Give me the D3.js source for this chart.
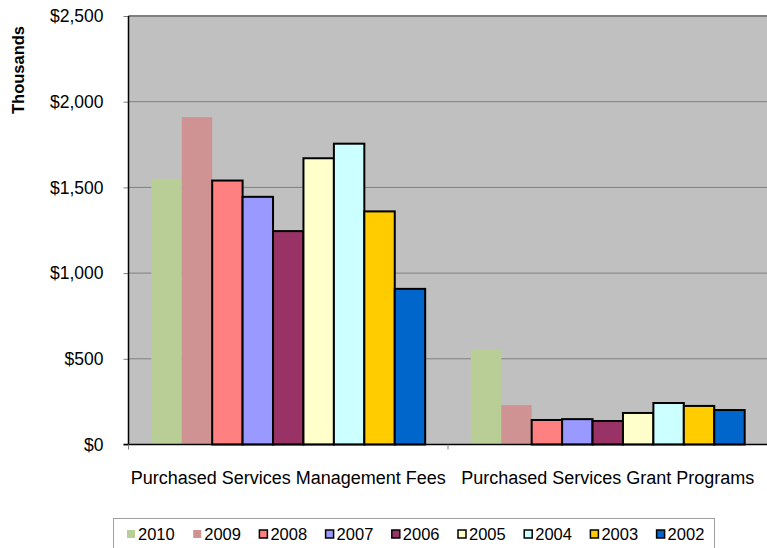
<!DOCTYPE html>
<html>
<head>
<meta charset="utf-8">
<script src="https://cdn.jsdelivr.net/npm/d3@7"></script>
<style>
  body { margin: 0; background: #fff; }
  text { font-family: "Liberation Sans", Arial, sans-serif; }
</style>
</head>
<body>
<div id="chart"></div>
<script>
// chart data
const categories = ["Purchased Services Management Fees", "Purchased Services Grant Programs"];
const years = ["2010", "2009", "2008", "2007", "2006", "2005", "2004", "2003", "2002"];
const feesValues = [1550, 1910, 1540, 1445, 1245, 1670, 1755, 1360, 908];
const grantValues = [552, 230, 143, 148, 137, 184, 242, 225, 201];
const yTicks = [0, 500, 1000, 1500, 2000, 2500];
const colors = ["#B9CE96", "#D09393", "#FF8080", "#9999FF", "#993366", "#FFFFCC", "#CCFFFF", "#FFCC00", "#0066CC"];
const outlined = [false, false, true, true, true, true, true, true, true];

const width = 767, height = 548;
const margin = { top: 16, right: 0, bottom: 103.5, left: 128.5 };

const svg = d3.select("#chart").append("svg")
    .attr("width", width)
    .attr("height", height);

const x0 = d3.scaleBand()
    .domain(categories)
    .range([margin.left, width + 0.5]);

const x1 = d3.scaleBand()
    .domain(years)
    .range([0, x0.bandwidth()])
    .paddingInner(0)
    .paddingOuter(0.75);

const y = d3.scaleLinear()
    .domain([0, 2500])
    .range([height - margin.bottom, margin.top]);

// plot background
svg.append("rect")
    .attr("x", margin.left)
    .attr("y", margin.top)
    .attr("width", width - margin.left + 1)
    .attr("height", y(0) - margin.top)
    .style("fill", "#C0C0C0");

// gridlines
svg.append("g")
    .selectAll("line")
    .data(yTicks.filter(d => d > 0))
    .enter().append("line")
    .attr("x1", margin.left)
    .attr("x2", width)
    .attr("y1", d => y(d))
    .attr("y2", d => y(d))
    .style("stroke", "#808080")
    .style("stroke-width", d => d === 2500 ? 2 : 1);

// bars
const rows = [feesValues, grantValues];
const group = svg.selectAll(".cat")
    .data(categories)
    .enter().append("g")
    .attr("class", "cat")
    .attr("transform", d => "translate(" + x0(d) + ",0)");

group.selectAll("rect")
    .data((d, i) => years.map((yr, j) => ({ year: yr, value: rows[i][j], idx: j })))
    .enter().append("rect")
    .attr("x", d => x1(d.year))
    .attr("y", d => y(d.value))
    .attr("width", x1.bandwidth())
    .attr("height", d => y(0) - y(d.value))
    .style("fill", d => colors[d.idx])
    .style("stroke", d => outlined[d.idx] ? "#000" : "none")
    .style("stroke-width", 2);

// y axis
const yAxis = d3.axisLeft(y)
    .tickValues(yTicks)
    .tickSize(5)
    .tickPadding(20)
    .tickFormat(d => "$" + d3.format(",")(d));

svg.append("g")
    .attr("transform", "translate(" + margin.left + ",0)")
    .call(yAxis)
    .call(g => g.select(".domain").remove())
    .call(g => g.selectAll("line").style("stroke", "#808080"))
    .call(g => g.selectAll("text")
        .style("font-size", "17.5px")
        .style("fill", "#000")
        .style("font-family", "'Liberation Sans', Arial, sans-serif"));

svg.append("line")
    .attr("x1", margin.left).attr("x2", margin.left)
    .attr("y1", margin.top).attr("y2", y(0))
    .style("stroke", "#000").style("stroke-width", 1.5);

// x axis line + category ticks
svg.append("line")
    .attr("x1", margin.left - 5).attr("x2", width)
    .attr("y1", y(0)).attr("y2", y(0))
    .style("stroke", "#000").style("stroke-width", 1.5);

svg.append("g")
    .selectAll("line")
    .data([margin.left, x0(categories[1])])
    .enter().append("line")
    .attr("x1", d => d).attr("x2", d => d)
    .attr("y1", y(0)).attr("y2", y(0) + 5)
    .style("stroke", "#808080");

svg.append("g")
    .selectAll("text")
    .data(categories)
    .enter().append("text")
    .attr("x", d => x0(d) + x0.bandwidth() / 2)
    .attr("y", 484)
    .attr("text-anchor", "middle")
    .style("font-size", "18px")
    .text(d => d);

// y title
svg.append("text")
    .attr("transform", "translate(23.5,70) rotate(-90)")
    .attr("text-anchor", "middle")
    .style("font-size", "16.5px")
    .style("font-weight", "bold")
    .text("Thousands");

// legend
svg.append("rect")
    .attr("x", 113.5)
    .attr("y", 518.5)
    .attr("width", 601)
    .attr("height", 50)
    .style("fill", "#fff")
    .style("stroke", "#A0A0A0")
    .style("stroke-width", 1);

const legend = svg.append("g")
    .selectAll("g")
    .data(years)
    .enter().append("g")
    .attr("transform", (d, i) => "translate(" + (127 + i * 66.2) + ",530)");

legend.append("rect")
    .attr("width", 8)
    .attr("height", 8)
    .style("fill", (d, i) => colors[i])
    .style("stroke", (d, i) => outlined[i] ? "#000" : "none")
    .style("stroke-width", 1.5);

legend.append("text")
    .attr("x", 11)
    .attr("y", 9.5)
    .style("font-size", "16.5px")
    .text(d => d);
</script>
</body>
</html>
